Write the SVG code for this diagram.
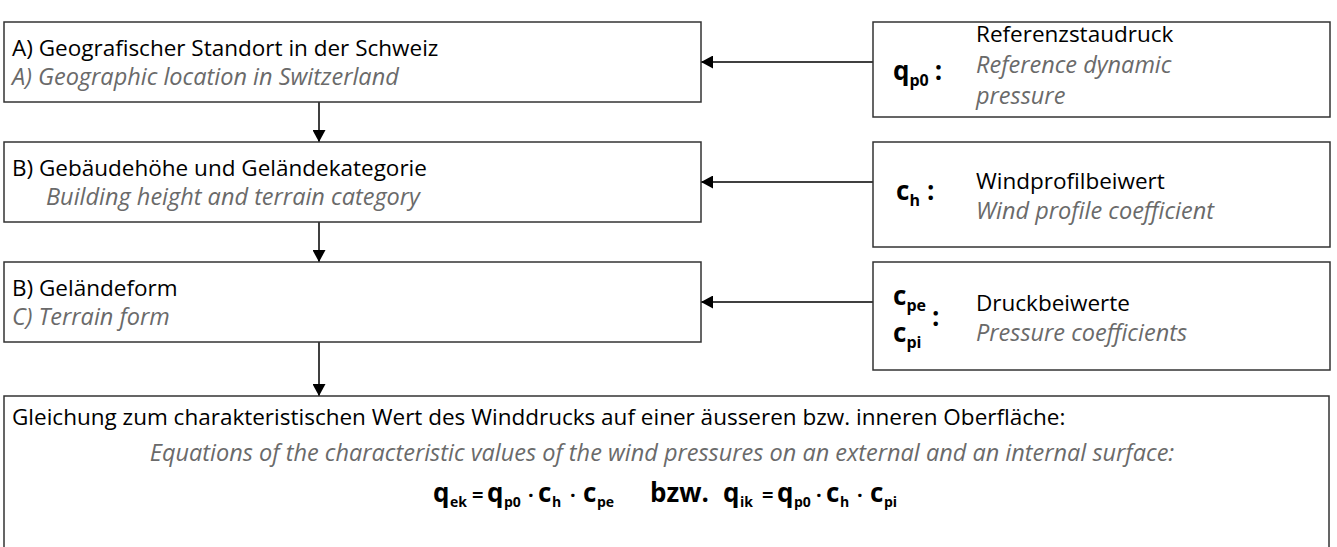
<svg xmlns="http://www.w3.org/2000/svg" width="1337" height="547" viewBox="0 0 1337 547">
<defs>
<marker id="ah" markerWidth="12" markerHeight="13" viewBox="0 0 12 13" refX="12" refY="6.5" orient="auto" markerUnits="userSpaceOnUse">
<path d="M0,0 L12,6.5 L0,13 Z" fill="#000"/>
</marker>
<style>
.box{fill:#fff;stroke:#333;stroke-width:1.5}
.de{font-family:"Open Sans","Liberation Sans",sans-serif;font-size:22.5px;fill:#000}
.en{font-family:"Open Sans","Liberation Sans",sans-serif;font-size:23.5px;fill:#6a6a6a;font-style:italic}
.sym{font-family:"Open Sans","Liberation Sans",sans-serif;font-size:26px;font-weight:bold;fill:#000}
.sub{font-size:16px}
.eq{font-family:"Open Sans","Liberation Sans",sans-serif;font-size:26px;font-weight:bold;fill:#000}
.es{font-family:"Open Sans","Liberation Sans",sans-serif;font-size:14px;font-weight:bold;fill:#000}
.con{stroke:#000;stroke-width:1.5;fill:none;marker-end:url(#ah)}
</style>
</defs>
<g id="connectors">
<line class="con" x1="319" y1="102" x2="319" y2="142"/>
<line class="con" x1="319" y1="222" x2="319" y2="262"/>
<line class="con" x1="319" y1="342" x2="319" y2="396"/>
<line class="con" x1="873" y1="62" x2="701" y2="62"/>
<line class="con" x1="873" y1="182" x2="701" y2="182"/>
<line class="con" x1="873" y1="302" x2="701" y2="302"/>
</g>
<g id="nodeA">
<rect class="box" x="4" y="22" width="697" height="80"/>
<text class="de" x="12" y="56">A) Geografischer Standort in der Schweiz</text>
<text class="en" x="12" y="85">A) Geographic location in Switzerland</text>
</g>
<g id="nodeB">
<rect class="box" x="4" y="142" width="697" height="80"/>
<text class="de" x="12" y="176">B) Gebäudehöhe und Geländekategorie</text>
<text class="en" x="46" y="205">Building height and terrain category</text>
</g>
<g id="nodeC">
<rect class="box" x="4" y="262" width="697" height="80"/>
<text class="de" x="12" y="296">B) Geländeform</text>
<text class="en" x="12" y="325">C) Terrain form</text>
</g>
<g id="nodeQp0">
<rect class="box" x="873" y="22" width="457" height="95"/>
<text class="sym" x="893" y="80">q<tspan class="sub" dy="6">p0</tspan><tspan dy="-6" dx="6">:</tspan></text>
<text class="de" x="976" y="42">Referenzstaudruck</text>
<text class="en" x="976" y="73">Reference dynamic</text>
<text class="en" x="976" y="104">pressure</text>
</g>
<g id="nodeCh">
<rect class="box" x="873" y="142" width="457" height="105"/>
<text class="sym" x="896" y="200">c<tspan class="sub" dy="6">h</tspan><tspan dy="-6" dx="7">:</tspan></text>
<text class="de" x="976" y="189">Windprofilbeiwert</text>
<text class="en" x="976" y="219">Wind profile coefficient</text>
</g>
<g id="nodeCp">
<rect class="box" x="873" y="262" width="457" height="108"/>
<text class="sym" x="893" y="305">c<tspan class="sub" dy="6">pe</tspan></text>
<text class="sym" x="893" y="342">c<tspan class="sub" dy="6">pi</tspan></text>
<text class="sym" x="932" y="326">:</text>
<text class="de" x="976" y="311">Druckbeiwerte</text>
<text class="en" x="976" y="341">Pressure coefficients</text>
</g>
<g id="nodeEq">
<rect class="box" x="4" y="396" width="1325" height="170"/>
<text class="de" x="12" y="425">Gleichung zum charakteristischen Wert des Winddrucks auf einer äusseren bzw. inneren Oberfläche:</text>
<text class="en" x="662" y="461" text-anchor="middle">Equations of the characteristic values of the wind pressures on an external and an internal surface:</text>
<text class="eq" y="502"><tspan x="433">q</tspan><tspan class="es" x="450" dy="5">ek</tspan><tspan x="472" dy="-5" font-size="20">=</tspan><tspan x="487">q</tspan><tspan class="es" x="504" dy="5">p0</tspan><tspan x="528" dy="-5" font-size="20">·</tspan><tspan x="538">c</tspan><tspan class="es" x="552" dy="5">h</tspan><tspan x="570" dy="-5" font-size="20">·</tspan><tspan x="583">c</tspan><tspan class="es" x="597" dy="5">pe</tspan><tspan x="650" dy="-5">bzw.</tspan><tspan x="723">q</tspan><tspan class="es" x="740" dy="5">ik</tspan><tspan x="762" dy="-5" font-size="20">=</tspan><tspan x="777">q</tspan><tspan class="es" x="794" dy="5">p0</tspan><tspan x="816" dy="-5" font-size="20">·</tspan><tspan x="826">c</tspan><tspan class="es" x="840" dy="5">h</tspan><tspan x="857" dy="-5" font-size="20">·</tspan><tspan x="870">c</tspan><tspan class="es" x="884" dy="5">pi</tspan></text>
</g>
</svg>
